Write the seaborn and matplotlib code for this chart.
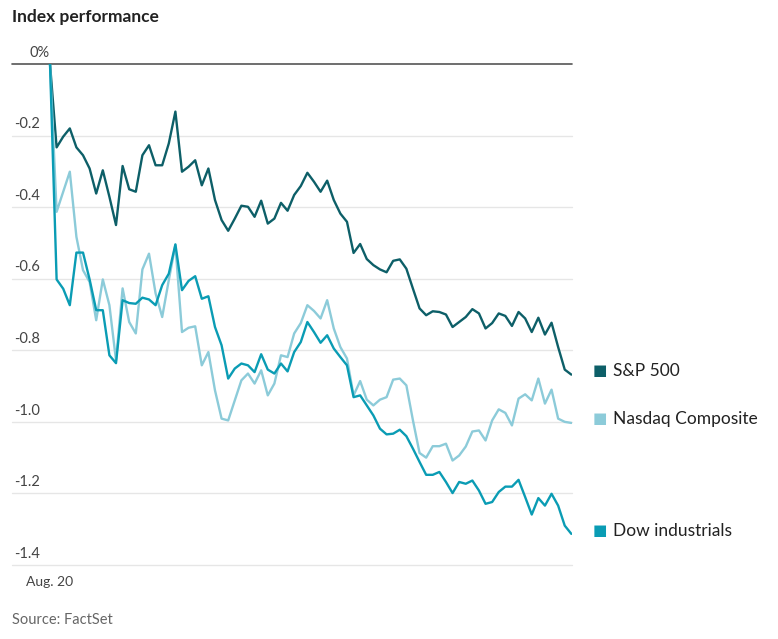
import numpy as np
import pandas as pd
import seaborn as sns
import matplotlib
matplotlib.use("Agg")
import matplotlib.pyplot as plt
from matplotlib.transforms import blended_transform_factory

sp500 = [0, -0.233, -0.203, -0.180, -0.233, -0.255, -0.292, -0.362, -0.297, -0.371, -0.450, -0.285, -0.350, -0.357, -0.255, -0.227, -0.283, -0.283, -0.222, -0.133,
         -0.301, -0.287, -0.269, -0.339, -0.292, -0.380, -0.436, -0.466, -0.432, -0.396, -0.399, -0.427, -0.382, -0.446, -0.432, -0.388, -0.410, -0.366, -0.341, -0.304,
         -0.329, -0.357, -0.326, -0.380, -0.418, -0.441, -0.528, -0.503, -0.545, -0.562, -0.574, -0.582, -0.550, -0.546, -0.572, -0.628, -0.683, -0.702, -0.691, -0.693,
         -0.700, -0.735, -0.721, -0.707, -0.685, -0.697, -0.739, -0.724, -0.697, -0.704, -0.732, -0.693, -0.711, -0.749, -0.709, -0.756, -0.723, -0.791, -0.854, -0.868]
nasdaq = [0, -0.413, -0.357, -0.301, -0.483, -0.576, -0.609, -0.716, -0.602, -0.674, -0.828, -0.627, -0.721, -0.753, -0.574, -0.530, -0.641, -0.707, -0.604, -0.506,
          -0.749, -0.737, -0.733, -0.842, -0.805, -0.912, -0.991, -0.996, -0.940, -0.884, -0.865, -0.893, -0.856, -0.926, -0.893, -0.814, -0.819, -0.753, -0.724, -0.674,
          -0.690, -0.711, -0.660, -0.739, -0.791, -0.823, -0.926, -0.886, -0.938, -0.954, -0.938, -0.931, -0.882, -0.879, -0.898, -0.996, -1.087, -1.100, -1.068, -1.068,
          -1.061, -1.108, -1.094, -1.069, -1.027, -1.024, -1.052, -0.996, -0.965, -0.975, -1.010, -0.935, -0.923, -0.940, -0.879, -0.949, -0.910, -0.991, -1.000, -1.003]
dow = [0, -0.602, -0.628, -0.674, -0.527, -0.527, -0.602, -0.688, -0.688, -0.814, -0.836, -0.660, -0.668, -0.670, -0.653, -0.658, -0.674, -0.618, -0.586, -0.504,
       -0.632, -0.606, -0.593, -0.656, -0.649, -0.735, -0.786, -0.879, -0.851, -0.837, -0.842, -0.861, -0.811, -0.854, -0.865, -0.837, -0.859, -0.805, -0.777, -0.721,
       -0.749, -0.779, -0.758, -0.795, -0.819, -0.842, -0.931, -0.926, -0.954, -0.982, -1.019, -1.035, -1.033, -1.022, -1.040, -1.075, -1.112, -1.148, -1.148, -1.140,
       -1.168, -1.199, -1.168, -1.173, -1.164, -1.192, -1.229, -1.224, -1.196, -1.181, -1.181, -1.162, -1.210, -1.259, -1.213, -1.234, -1.201, -1.234, -1.290, -1.313]
series_names = ["S&P 500", "Nasdaq Composite", "Dow industrials"]
y_ticks = [0, -0.2, -0.4, -0.6, -0.8, -1.0, -1.2, -1.4]
y_tick_labels = ["0%", "-0.2", "-0.4", "-0.6", "-0.8", "-1.0", "-1.2", "-1.4"]
x_tick_label = "Aug. 20"

colors = {"S&P 500": "#0d5f68", "Nasdaq Composite": "#8ccbd9", "Dow industrials": "#0a9cb4"}

idx = np.arange(len(sp500))
df = pd.concat([pd.DataFrame({"t": idx, "v": vals, "s": name})
                for name, vals in zip(series_names, [sp500, nasdaq, dow])])

sns.set_style("white")
plt.rcParams["font.family"] = ["Lato", "DejaVu Sans"]

fig = plt.figure(figsize=(7.78, 6.39), dpi=100)
ax = fig.add_axes([12/778, 1-565/639, (572-12)/778, (565-64)/639])
sns.lineplot(data=df, x="t", y="v", hue="s", palette=colors, linewidth=1.7,
             legend=False, ax=ax, zorder=3)
ax.set_xlim(-5.76, 79.1)
ax.set_ylim(-1.4, 0)
for s in ax.spines.values():
    s.set_visible(False)
ax.set_xlabel("")
ax.set_ylabel("")
ax.set_yticks([])
ax.set_xticks([0])
ax.set_xticklabels([x_tick_label], fontsize=10, color="#444444")
ax.tick_params(axis="x", length=5, color="#555555", pad=3)
for t, lab in zip(y_ticks, y_tick_labels):
    ax.axhline(t, color="#555555" if t == 0 else "#e6e6e6",
               lw=1.2 if t == 0 else 1.0, zorder=1, clip_on=False)
    tr = blended_transform_factory(ax.transAxes, ax.transData)
    xpos = 18/560 if t == 0 else 2/560
    ax.text(xpos, t + 0.012, lab, transform=tr, fontsize=10.5, color="#444444",
            ha="left", va="bottom")

# end labels
for name, vals, ypix in zip(series_names, [sp500, nasdaq, dow], [371, 419, 531]):
    fig.text(593/778, 1-ypix/639, "\u25A0", color=colors[name], fontsize=11, va="center")
    fig.text(613/778, 1-ypix/639, name, color="#222222", fontsize=12.5, va="center")

fig.text(12/778, 1-17/639, "Index performance", fontsize=12.5, fontweight="bold",
         color="#222222", va="center")
fig.text(12/778, 1-620/639, "Source: FactSet", fontsize=10.5, color="#666666", va="center")

fig.savefig("out.png", dpi=100)
